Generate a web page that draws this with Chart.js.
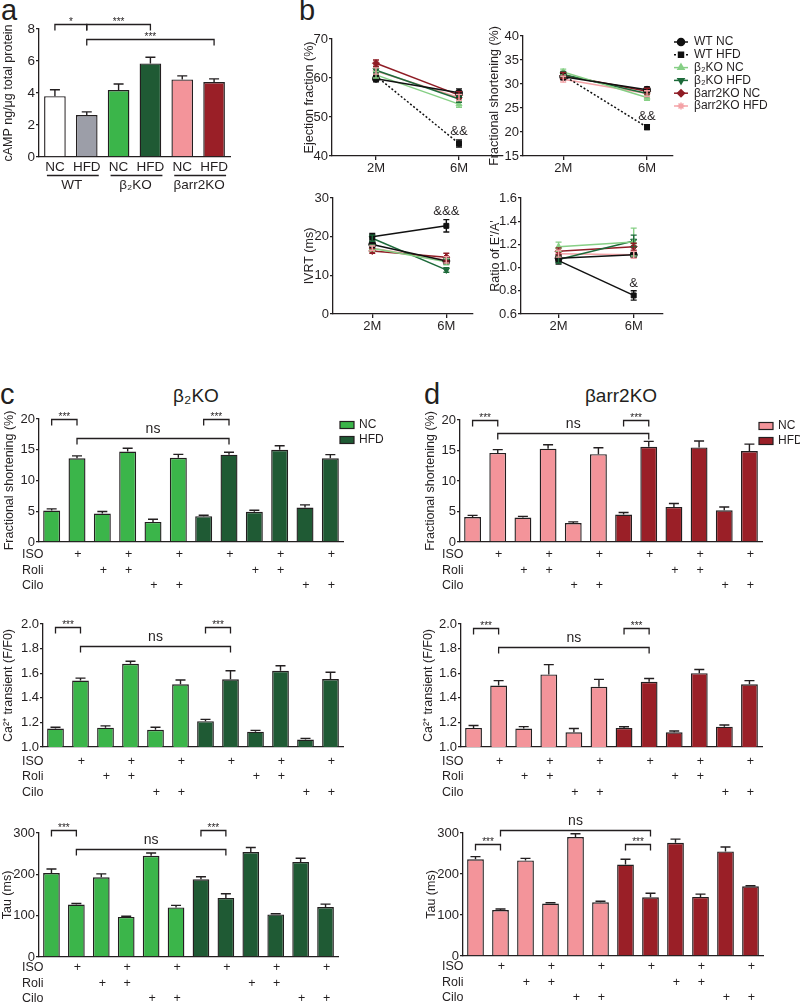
<!DOCTYPE html>
<html>
<head>
<meta charset="utf-8">
<script src="https://cdn.jsdelivr.net/npm/chart.js@4.4.0/dist/chart.umd.min.js"></script>
<style>
  body { margin: 0; width: 800px; height: 1004px; position: relative; overflow: hidden; background: #fff;
         font-family: "Liberation Sans", Arial, sans-serif; color: #231f20; }
  .letter { position: absolute; font-size: 29px; line-height: 1; }
  .title { position: absolute; font-size: 19px; line-height: 1; transform: translateX(-50%); white-space: nowrap; }
</style>
</head>
<body>
<div class="letter" style="left:1px;top:-4px">a</div>
<div class="letter" style="left:299px;top:-4px">b</div>
<div class="letter" style="left:0px;top:380px">c</div>
<div class="letter" style="left:424px;top:380px">d</div>
<div class="title" style="left:196px;top:386px">β₂KO</div>
<div class="title" style="left:621px;top:386px">βarr2KO</div>
<script>
// ---------- panel a: cAMP
const aGroups = ['WT', 'β₂KO', 'βarr2KO'];
const aLabels = ['NC', 'HFD', 'NC', 'HFD', 'NC', 'HFD'];
const aCamp = [3.8, 2.62, 4.18, 5.85, 4.85, 4.68];
const aCampErr = [0.4, 0.2, 0.38, 0.38, 0.22, 0.2];
const aColors = ['#ffffff', '#9c9ea8', '#3bb54a', '#1f5a34', '#f3949a', '#9a1f27'];

// ---------- panel b: echo time course
const timepoints = ['2M', '6M'];
const bSeries = ['WT NC', 'WT HFD', 'β₂KO NC', 'β₂KO HFD', 'βarr2KO NC', 'βarr2KO HFD'];
const efVals = [[59.8, 56.2], [60.5, 43.2], [60.8, 53.3], [62, 54.6], [63.8, 55.6], [61.8, 55]];
const efErr = [[0.8, 1], [1, 0.9], [0.8, 0.8], [0.8, 0.8], [0.8, 0.9], [0.8, 0.8]];
const fsVals = [[31.5, 28.8], [31.8, 21], [32.5, 27.2], [32, 28], [31.8, 28.5], [31, 28]];
const fsErr = [[0.6, 0.6], [0.6, 0.5], [0.6, 0.6], [0.6, 0.6], [0.6, 0.6], [0.6, 0.6]];
const ivrtVals = [[18, 13.7], [20, 22.8], [17, 13.5], [19.6, 11.4], [16.3, 14.7], [17, 14]];
const ivrtErr = [[0.8, 0.8], [0.8, 1.6], [0.8, 0.8], [0.8, 0.6], [0.6, 1], [0.6, 0.8]];
const ratioVals = [[1.08, 1.11], [1.06, 0.76], [1.18, 1.22], [1.07, 1.23], [1.14, 1.18], [1.12, 1.11]];
const ratioErr = [[0.03, 0.02], [0.03, 0.04], [0.04, 0.12], [0.03, 0.05], [0.03, 0.03], [0.03, 0.03]];
const bColors = ['#111111', '#111111', '#86cf85', '#1d6a3a', '#8f1c25', '#f4a3a7'];
const bStyles = ['circle', 'rect', 'triangle', 'triangle', 'rectRot', 'star'];
const bRot = [0, 0, 0, 180, 0, 0];

// ---------- panels c, d: myocytes
const diet = ['NC', 'NC', 'NC', 'NC', 'NC', 'NC', 'HFD', 'HFD', 'HFD', 'HFD', 'HFD', 'HFD'];
const rowNames = ['ISO', 'Roli', 'Cilo'];
const isoRow  = ['', '+', '', '+', '', '+', '', '+', '', '+', '', '+'];
const roliRow = ['', '', '+', '+', '', '', '', '', '+', '+', '', ''];
const ciloRow = ['', '', '', '', '+', '+', '', '', '', '', '+', '+'];
const treatRows = [isoRow, roliRow, ciloRow];

const cFs = [5.12, 13.6, 4.63, 14.7, 3.27, 13.7, 4.2, 14.2, 4.9, 15.0, 5.6, 13.6];
const cFsErr = [0.27, 0.4, 0.33, 0.55, 0.44, 0.55, 0.16, 0.4, 0.27, 0.65, 0.44, 0.6];
const cCa = [1.15, 1.54, 1.157, 1.677, 1.14, 1.51, 1.21, 1.55, 1.125, 1.62, 1.06, 1.553];
const cCaErr = [0.01, 0.02, 0.015, 0.02, 0.02, 0.035, 0.015, 0.07, 0.01, 0.04, 0.01, 0.055];
const cTau = [203, 127, 193, 97, 245, 120, 188, 143, 254, 103, 230, 121];
const cTauErr = [10, 2.5, 8, 1.5, 6.5, 5, 6, 10, 11, 1.5, 9, 7];

const dFs = [4.1, 14.6, 4.0, 15.3, 3.1, 14.4, 4.5, 15.6, 5.75, 15.5, 5.2, 14.9];
const dFsErr = [0.27, 0.55, 0.2, 0.65, 0.2, 1.05, 0.33, 0.9, 0.55, 1.05, 0.55, 1.15];
const dCa = [1.155, 1.5, 1.15, 1.59, 1.12, 1.49, 1.155, 1.53, 1.12, 1.6, 1.165, 1.51];
const dCaErr = [0.02, 0.04, 0.016, 0.08, 0.03, 0.06, 0.01, 0.027, 0.01, 0.03, 0.014, 0.03];
const dTau = [236, 112, 233, 128, 290, 131, 223, 143, 276, 144, 255, 170];
const dTauErr = [6.5, 2.5, 5, 2, 8, 2.5, 13, 10, 9, 7, 11, 1.5];

const ink = '#231f20';
const fam = '"Liberation Sans", Arial, sans-serif';
Chart.defaults.font.family = fam;
Chart.defaults.color = ink;
Chart.defaults.animation = false;
Chart.defaults.plugins.legend.display = false;
Chart.defaults.plugins.tooltip.enabled = false;

function canvasAt(left, top, w, h) {
  const c = document.createElement('canvas');
  c.width = w; c.height = h;
  c.style.cssText = `position:absolute;left:${left}px;top:${top}px;width:${w}px;height:${h}px`;
  document.body.appendChild(c);
  return c;
}

// error bars, up only for bars, both ways for lines
const errorBars = {
  id: 'errorBars',
  afterDatasetsDraw(chart) {
    const { ctx, scales: { y } } = chart;
    chart.data.datasets.forEach((ds, di) => {
      if (!ds.err) return;
      chart.getDatasetMeta(di).data.forEach((el, i) => {
        const e = ds.err[i];
        if (!e) return;
        const raw = ds.data[i];
        const v = typeof raw === 'object' ? raw.y : raw;
        const top = y.getPixelForValue(v + e);
        const bot = ds.errBoth ? y.getPixelForValue(v - e) : el.y;
        const cap = ds.errBoth ? 3 : 5;
        ctx.save();
        ctx.strokeStyle = ds.errColor || ink;
        ctx.lineWidth = 1.4;
        ctx.beginPath();
        ctx.moveTo(el.x, bot); ctx.lineTo(el.x, top);
        ctx.moveTo(el.x - cap, top); ctx.lineTo(el.x + cap, top);
        if (ds.errBoth) { ctx.moveTo(el.x - cap, bot); ctx.lineTo(el.x + cap, bot); }
        ctx.stroke();
        ctx.restore();
      });
    });
  }
};

function bracketPlugin(list) {
  return {
    id: 'brackets',
    afterDraw(chart) {
      const { ctx, scales: { x, y } } = chart;
      ctx.save();
      ctx.strokeStyle = ink; ctx.fillStyle = ink; ctx.lineWidth = 1.3;
      list.forEach(b => {
        const x1 = x.getPixelForValue(b[0]), x2 = x.getPixelForValue(b[1]);
        const yy = Math.round(y.getPixelForValue(b[2])) + 0.5;
        ctx.beginPath();
        ctx.moveTo(x1, yy + 6); ctx.lineTo(x1, yy); ctx.lineTo(x2, yy); ctx.lineTo(x2, yy + 6);
        ctx.stroke();
        const ns = b[3] === 'ns';
        ctx.font = (ns ? '14px ' : '10px ') + fam;
        ctx.textAlign = 'center';
        ctx.textBaseline = 'bottom';
        ctx.fillText(b[3], (x1 + x2) / 2, yy + (ns ? -2 : 3));
      });
      ctx.restore();
    }
  };
}

function rowsPlugin(dy, lx) {
  return {
    id: 'rows',
    afterDraw(chart) {
      const { ctx, chartArea, scales: { x } } = chart;
      ctx.save();
      ctx.fillStyle = ink;
      ctx.font = '12.5px ' + fam;
      ctx.textBaseline = 'middle';
      treatRows.forEach((row, r) => {
        const y = chartArea.bottom + dy[r];
        ctx.textAlign = 'left';
        ctx.fillText(rowNames[r], lx, y);
        ctx.textAlign = 'center';
        row.forEach((s, i) => { if (s) ctx.fillText(s, x.getPixelForValue(i) + 1, y); });
      });
      ctx.restore();
    }
  };
}

function boxLegend(colors) {
  return {
    id: 'boxLegend',
    afterDraw(chart) {
      const { ctx, chartArea } = chart;
      ctx.save();
      ctx.font = '12px ' + fam;
      ctx.textBaseline = 'middle';
      ['NC', 'HFD'].forEach((t, i) => {
        const x0 = chartArea.right - 3, y0 = chartArea.top + 6 + i * 15;
        ctx.fillStyle = colors[t];
        ctx.fillRect(x0, y0 - 3.5, 14, 7);
        ctx.strokeStyle = ink; ctx.lineWidth = 1.2;
        ctx.strokeRect(x0, y0 - 3.5, 14, 7);
        ctx.fillStyle = ink;
        ctx.fillText(t, x0 + 19, y0);
      });
      ctx.restore();
    }
  };
}

function yAxis(min, max, step, title, w, tpad, dec, fs) {
  return {
    min, max,
    ticks: { stepSize: step, padding: 1, font: { size: fs || 12.5 }, callback: v => dec ? v.toFixed(dec) : v },
    grid: { drawOnChartArea: false, tickLength: 3, color: ink, lineWidth: 1.3 },
    border: { color: ink, width: 1.3 },
    title: { display: true, text: title, font: { size: 12.5 }, padding: { top: tpad, bottom: 0 } },
    afterFit: s => { s.width = w; }
  };
}

// ---------- panel a
new Chart(canvasAt(0, 0, 240, 195), {
  type: 'bar',
  data: {
    labels: aLabels,
    datasets: [{ data: aCamp, err: aCampErr, backgroundColor: aColors, borderColor: ink, borderWidth: 1.4,
                 barPercentage: 0.68, categoryPercentage: 1 }]
  },
  options: {
    responsive: false,
    layout: { padding: { top: 29, right: 10 } },
    scales: {
      x: { grid: { display: false }, ticks: { display: false }, border: { color: ink, width: 1.3 },
           afterFit: s => { s.height = 38; } },
      y: yAxis(0, 8, 2, 'cAMP ng/μg total protein', 39, 1, 0, 13.5)
    }
  },
  plugins: [errorBars, bracketPlugin([[0, 1, 8.3, '*'], [1, 3, 8.3, '***'], [1, 5, 7.36, '***']]), {
    id: 'groups',
    afterDraw(chart) {
      const { ctx, chartArea, scales: { x } } = chart;
      ctx.save();
      ctx.fillStyle = ink; ctx.strokeStyle = ink; ctx.lineWidth = 1.3;
      ctx.font = '13.5px ' + fam;
      ctx.textAlign = 'center'; ctx.textBaseline = 'middle';
      aLabels.forEach((t, i) => ctx.fillText(t, x.getPixelForValue(i), chartArea.bottom + 10));
      aGroups.forEach((g, k) => {
        const x1 = x.getPixelForValue(2 * k), x2 = x.getPixelForValue(2 * k + 1);
        const yl = chartArea.bottom + 18.5;
        ctx.beginPath(); ctx.moveTo(x1 - 8, yl); ctx.lineTo(x2 + 12, yl); ctx.stroke();
        ctx.fillText(g, (x1 + x2) / 2 + 1, chartArea.bottom + 28);
      });
      ctx.restore();
    }
  }]
});

// ---------- panel b
function linePanel(left, top, w, h, c) {
  const datasets = c.vals.map((v, s) => ({
    label: bSeries[s],
    data: v.map((y, i) => ({ x: i, y })),
    err: c.errs[s], errBoth: true, errColor: bColors[s],
    borderColor: bColors[s], backgroundColor: bColors[s], borderWidth: 1.5,
    borderDash: (c.dotted && s === 1) ? [2, 2] : [],
    pointStyle: bStyles[s], pointRotation: bRot[s], pointRadius: 3.5, pointBorderWidth: 1,
    pointBackgroundColor: bColors[s], pointBorderColor: bColors[s]
  }));
  const plugins = [errorBars, {
    id: 'mark',
    afterDraw(chart) {
      const { ctx } = chart;
      const el = chart.getDatasetMeta(1).data[1];
      ctx.save();
      ctx.fillStyle = ink; ctx.font = '13px ' + fam; ctx.textAlign = 'center'; ctx.textBaseline = 'middle';
      ctx.fillText(c.mark, el.x, el.y - c.markDy);
      ctx.restore();
    }
  }];
  if (c.legend) plugins.push({
    id: 'bLegend',
    afterDraw(chart) {
      const { ctx, chartArea } = chart;
      const dp = Chart.helpers && Chart.helpers.drawPoint;
      chart.data.datasets.forEach((ds, i) => {
        const x0 = chartArea.right + 1, y = chartArea.top + 6 + i * 12.8;
        ctx.save();
        ctx.strokeStyle = bColors[i]; ctx.fillStyle = bColors[i]; ctx.lineWidth = 1.5;
        ctx.setLineDash(i === 1 ? [2, 2] : []);
        ctx.beginPath(); ctx.moveTo(x0, y); ctx.lineTo(x0 + 14, y); ctx.stroke();
        ctx.setLineDash([]);
        if (dp) dp(ctx, { pointStyle: bStyles[i], radius: 3.5, rotation: bRot[i], borderWidth: 1 }, x0 + 7, y);
        ctx.fillStyle = ink; ctx.font = '12px ' + fam; ctx.textBaseline = 'middle';
        ctx.fillText(bSeries[i], x0 + 20, y);
        ctx.restore();
      });
    }
  });
  new Chart(canvasAt(left, top, w, h), {
    type: 'line',
    data: { datasets },
    options: {
      responsive: false,
      layout: { padding: { top: c.padTop, right: c.padRight } },
      scales: {
        x: {
          type: 'linear', min: c.xmin, max: c.xmax,
          afterBuildTicks: s => { s.ticks = timepoints.map((t, i) => ({ value: i })); },
          ticks: { callback: (v, i) => timepoints[i], font: { size: 13 }, padding: 1, autoSkip: false, maxRotation: 0 },
          grid: { drawOnChartArea: false, tickLength: 4, color: ink, lineWidth: 1.3 },
          border: { color: ink, width: 1.3 },
          afterFit: s => { s.height = c.xh; }
        },
        y: yAxis(c.min, c.max, c.step, c.title, c.yw, c.tpad, c.dec, 13)
      }
    },
    plugins
  });
}

linePanel(290, 20, 220, 160, { vals: efVals, errs: efErr, min: 40, max: 70, step: 10, title: 'Ejection fraction (%)',
  yw: 42, tpad: 12, padTop: 19, padRight: 7, xh: 24, xmin: -0.53, xmax: 1.53, dotted: true, mark: '&&', markDy: 12 });
linePanel(480, 20, 320, 160, { vals: fsVals, errs: fsErr, min: 15, max: 40, step: 5, title: 'Fractional shortening (%)',
  yw: 43, tpad: 7, padTop: 16, padRight: 127, xh: 24, xmin: -0.48, xmax: 1.31, dotted: true, mark: '&&', markDy: 11, legend: true });
linePanel(290, 180, 200, 160, { vals: ivrtVals, errs: ivrtErr, min: 0, max: 30, step: 10, title: 'IVRT (ms)',
  yw: 43, tpad: 12, padTop: 18, padRight: 17, xh: 26, xmin: -0.53, xmax: 1.36, mark: '&&&', markDy: 14 });
linePanel(480, 180, 200, 160, { vals: ratioVals, errs: ratioErr, min: 0.6, max: 1.6, step: 0.2, dec: 1, title: "Ratio of E'/A'",
  yw: 41, tpad: 8, padTop: 18, padRight: 17, xh: 26, xmin: -0.5, xmax: 1.39, mark: '&', markDy: 12 });

// ---------- panels c and d
function barPanel(left, top, w, h, c) {
  new Chart(canvasAt(left, top, w, h), {
    type: 'bar',
    data: {
      labels: diet.map((d, i) => d + i),
      datasets: [{ data: c.vals, err: c.errs, backgroundColor: diet.map(d => c.colors[d]), borderColor: ink,
                   borderWidth: 1.4, barPercentage: 0.67, categoryPercentage: 1 }]
    },
    options: {
      responsive: false,
      layout: { padding: { top: c.padTop, right: c.padRight } },
      scales: {
        x: { grid: { display: false }, ticks: { display: false }, border: { color: ink, width: 1.3 },
             afterFit: s => { s.height = c.xh; } },
        y: yAxis(c.min, c.max, c.step, c.title, c.yw, c.tpad, c.dec, 13)
      }
    },
    plugins: [errorBars, bracketPlugin(c.brackets), rowsPlugin(c.rowDy, 22)].concat(c.legend ? [boxLegend(c.colors)] : [])
  });
}

const cCols = { NC: '#3bb54a', HFD: '#1f5a34' };
const dCols = { NC: '#f3949a', HFD: '#9a1f27' };

barPanel(0, 400, 400, 195, { vals: cFs, errs: cFsErr, colors: cCols, min: 0, max: 20, step: 5, title: 'Fractional shortening (%)',
  yw: 39, tpad: 2, padTop: 19, padRight: 57, xh: 53, rowDy: [13, 29, 44], legend: true,
  brackets: [[0, 1, 20, '***'], [6, 7, 20, '***'], [1, 7, 16.9, 'ns']] });
barPanel(0, 605, 400, 195, { vals: cCa, errs: cCaErr, colors: cCols, min: 1, max: 2, step: 0.2, dec: 1, title: 'Ca²⁺ transient (F/F0)',
  yw: 43, tpad: 1, padTop: 19, padRight: 57, xh: 53, rowDy: [15, 30, 46],
  brackets: [[0, 1, 1.975, '***'], [6, 7, 1.975, '***'], [1, 7, 1.82, 'ns']] });
barPanel(0, 814, 400, 190, { vals: cTau, errs: cTauErr, colors: cCols, min: 0, max: 300, step: 100, title: 'Tau (ms)',
  yw: 39, tpad: 0, padTop: 19, padRight: 62, xh: 47, rowDy: [11, 27, 42],
  brackets: [[0, 1, 307, '***'], [6, 7, 307, '***'], [1, 7, 262, 'ns']] });

barPanel(420, 400, 380, 195, { vals: dFs, errs: dFsErr, colors: dCols, min: 0, max: 20, step: 5, title: 'Fractional shortening (%)',
  yw: 40, tpad: 3, padTop: 20, padRight: 38, xh: 53, rowDy: [13, 29, 44], legend: true,
  brackets: [[0, 1, 20, '***'], [6, 7, 20, '***'], [1, 7, 17.9, 'ns']] });
barPanel(420, 605, 380, 195, { vals: dCa, errs: dCaErr, colors: dCols, min: 1, max: 2, step: 0.2, dec: 1, title: 'Ca²⁺ transient (F/F0)',
  yw: 41, tpad: 1, padTop: 19, padRight: 38, xh: 53, rowDy: [15, 30, 46],
  brackets: [[0, 1, 1.97, '***'], [6, 7, 1.97, '***'], [1, 7, 1.81, 'ns']] });
barPanel(420, 814, 380, 190, { vals: dTau, errs: dTauErr, colors: dCols, min: 0, max: 300, step: 100, title: 'Tau (ms)',
  yw: 43, tpad: 4, padTop: 19, padRight: 37, xh: 48, rowDy: [11, 27, 42],
  brackets: [[1, 7, 308, 'ns'], [0, 1, 273, '***'], [6, 7, 273, '***']] });
</script>
</body>
</html>
